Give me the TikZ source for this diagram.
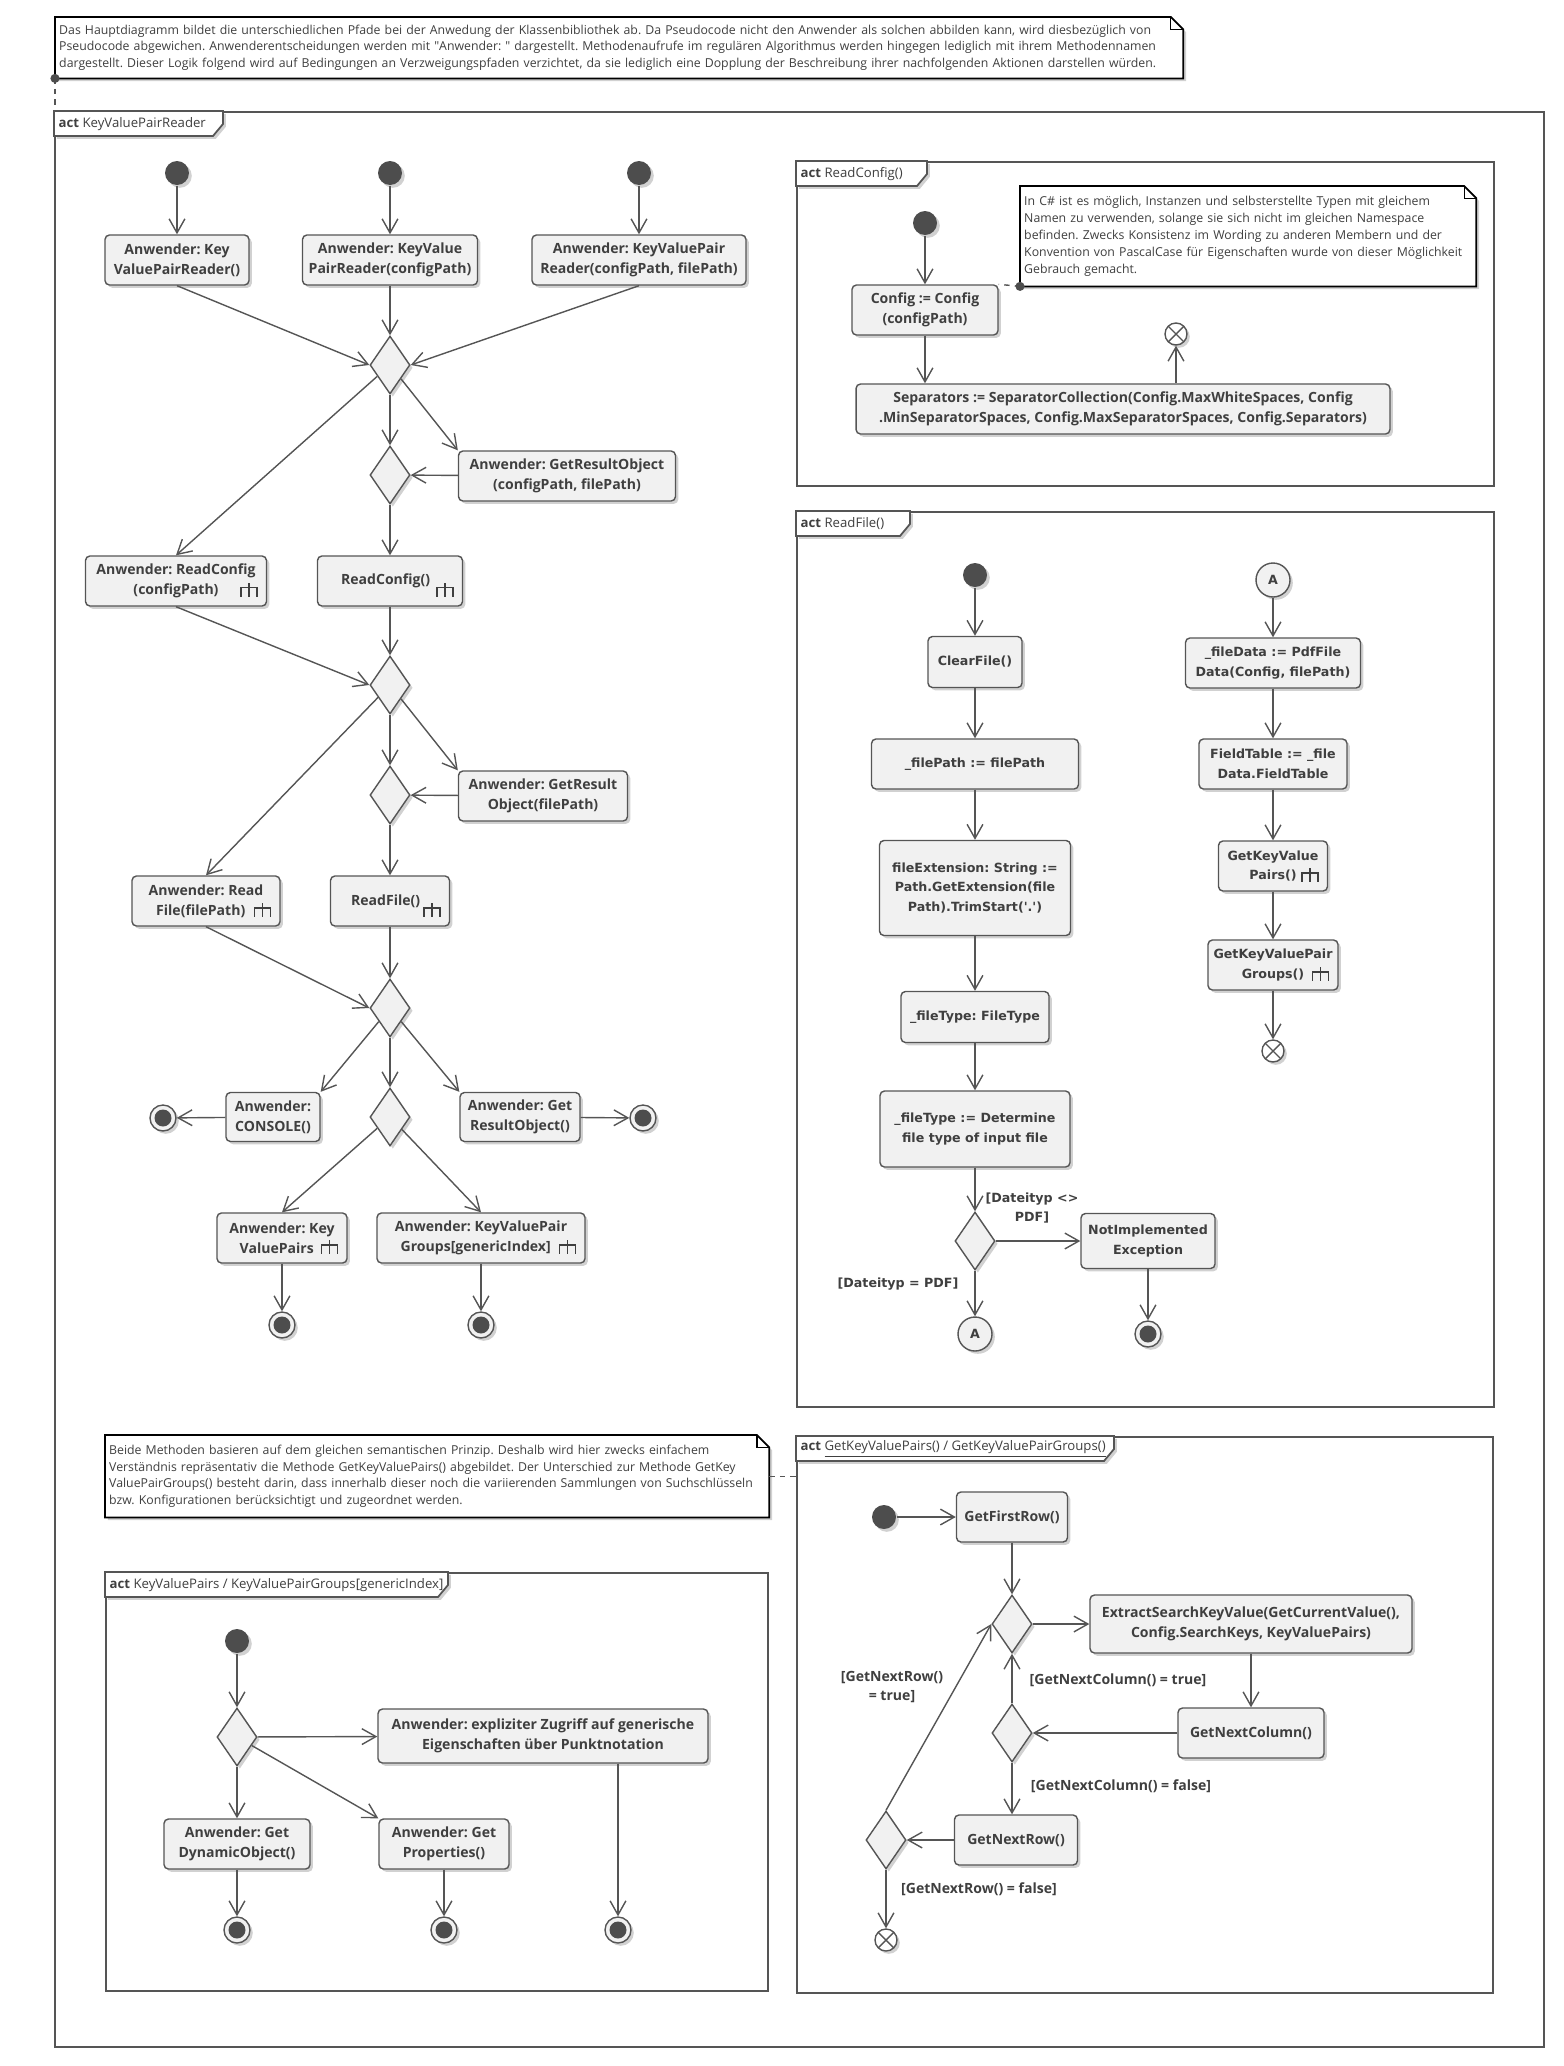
\documentclass[tikz,border=0pt]{standalone}
\usepackage{fontspec}
\setmainfont{Open Sans}
\newfontfamily\widefont{DejaVu Sans}
\usetikzlibrary{arrows.meta, positioning, shapes.geometric, shadows, calc, backgrounds}
\frenchspacing

\definecolor{umlline}{HTML}{555555}
\definecolor{umlfill}{HTML}{F1F1F1}
\definecolor{umltext}{HTML}{3F3F3F}
\definecolor{umldot}{HTML}{4D4D4D}

\newcommand{\actfont}{\fontsize{8}{11.3}\selectfont\bfseries}
\newcommand{\widetext}{\widefont\fontsize{7.2}{11.3}\selectfont\bfseries}
\newcommand{\notetext}{\fontsize{7}{9.6}\selectfont}
\newcommand{\tabtext}{\fontsize{7.5}{9}\selectfont}

\tikzset{
    actdiagram/.style={x=0.02cm, y=-0.02cm, >={Straight Barb[length=8pt, width=9pt]}, line width=0.8pt, text=umltext},
    wh/.style 2 args={minimum width=#1*0.2mm, minimum height=#2*0.2mm},
    umlshadow/.style={drop shadow={shadow xshift=1.6pt, shadow yshift=-1.6pt, opacity=0.18, fill=black}},
    action/.style={draw=umlline, fill=umlfill, rounded corners=2.5pt, align=center, font=\actfont, inner sep=1pt, umlshadow},
    wideaction/.style={action, font=\widetext},
    decision/.style={diamond, draw=umlline, fill=umlfill, minimum width=0.8cm, minimum height=1.16cm, inner sep=0pt, umlshadow},
    startnode/.style={circle, fill=umldot, minimum size=4.8mm, inner sep=0pt, umlshadow},
    endnode/.style={circle, draw=umlline, fill=umlfill, minimum size=5.2mm, inner sep=0pt, umlshadow,
        path picture={\fill[umldot] (path picture bounding box.center) circle (1.7mm);}},
    flowend/.style={circle, draw=umlline, fill=white, minimum size=4.4mm, inner sep=0pt, umlshadow,
        path picture={\draw[umlline] (path picture bounding box.north west) -- (path picture bounding box.south east)
            (path picture bounding box.north east) -- (path picture bounding box.south west);}},
    connector/.style={circle, draw=umlline, fill=umlfill, minimum size=6.8mm, inner sep=0pt, font=\widetext, umlshadow},
    guard/.style={font=\actfont, align=center, inner sep=0pt},
    wideguard/.style={guard, font=\widetext},
    note/.style={font=\notetext, align=left, inner xsep=2pt, inner ysep=0pt, anchor=north west},
    noteline/.style={draw=black, fill=white, line width=1pt, umlshadow},
    actframe/.style={draw=umlline, line width=1pt, anchor=north west, inner sep=0pt},
    flow/.style={draw=umlline, ->},
    notelink/.style={draw=umlline, dash pattern=on 3pt off 3pt},
    rake/.pic={\draw[umltext, line width=0.9pt] (0,0) -- (0,-14) (-8,0) -- (-8,-9) -- (8,-9) -- (8,0);},
}

% frame tab: node, tab width, label
\newcommand{\acttab}[3]{%
    \draw[draw=umlline, fill=white, line width=1pt, umlshadow] (#1.north west) -- ++(#2,0) -- ++(0,13) -- ++(-10,12) -- ($(#1.north west)+(0,25)$) -- cycle;
    \node[font=\tabtext, anchor=west, inner sep=0pt] (#1-tab) at ($(#1.north west)+(4,13)$) {\textbf{act} #3};}
% note outline with folded corner
\newcommand{\dogear}[1]{%
    \draw[noteline] (#1.north west) -- ([xshift=-7pt]#1.north east) -- ([yshift=-7pt]#1.north east) -- (#1.south east) -- (#1.south west) -- cycle;
    \draw[line width=0.6pt] ([xshift=-7pt]#1.north east) |- ([yshift=-7pt]#1.north east);}

\begin{document}
\begin{tikzpicture}[actdiagram]
    \useasboundingbox (0,0) rectangle (1563,2066);

    % notes
    \node[note, text width=1120*0.2mm, minimum height=60*0.2mm] (nTop) at (55,17) {Das Hauptdiagramm bildet die unterschiedlichen Pfade bei der Anwedung der Klassenbibliothek ab. Da Pseudocode nicht den Anwender als solchen abbilden kann, wird diesbezüglich von\\Pseudocode abgewichen. Anwenderentscheidungen werden mit \textquotedbl Anwender: \textquotedbl{} dargestellt. Methodenaufrufe im regulären Algorithmus werden hingegen lediglich mit ihrem Methodennamen\\dargestellt. Dieser Logik folgend wird auf Bedingungen an Verzweigungspfaden verzichtet, da sie lediglich eine Dopplung der Beschreibung ihrer nachfolgenden Aktionen darstellen würden.};

    % frames
    \node[actframe, line width=1.2pt, wh={1489}{1935}] (fMain) at (54,111) {};
    \acttab{fMain}{169}{KeyValuePairReader}
    \node[actframe, wh={697}{324}] (fRC) at (796,161) {};
    \acttab{fRC}{131}{ReadConfig()}
    \node[actframe, wh={697}{895}] (fRF) at (796,511) {};
    \acttab{fRF}{114}{ReadFile()}
    \node[actframe, wh={662}{418}] (fKV) at (105,1572) {};
    \acttab{fKV}{343}{KeyValuePairs / KeyValuePairGroups[genericIndex]}
    \node[actframe, wh={696}{556}] (fGK) at (796,1436) {};
    \acttab{fGK}{318}{\underline{GetKeyValuePairs() / GetKeyValuePairGroups()}}

    % KeyValuePairReader
    \node[startnode] (s1) at (177,173) {};
    \node[startnode] (s2) at (390,173) {};
    \node[startnode] (s3) at (639,173) {};
    \node[action, wh={144}{50}] (b1) at (177,260) {Anwender: Key\\ValuePairReader()};
    \node[action, wh={175}{50}] (b2) at (390,260) {Anwender: KeyValue\\PairReader(configPath)};
    \node[action, wh={214}{50}] (b3) at (639,260) {Anwender: KeyValuePair\\Reader(configPath, filePath)};
    \node[decision] (d1) at (390,365) {};
    \node[decision] (d2) at (390,475) {};
    \node[action, wh={217}{50}] (bGRO) at (567,476) {Anwender: GetResultObject\\(configPath, filePath)};
    \node[action, wh={181}{50}] (bRCu) at (176,581) {Anwender: ReadConfig\\(configPath)};
    \node[action, wh={145}{50}] (bRC) at (390,581) {ReadConfig()\hspace*{5pt}};
    \node[decision] (d3) at (390,685) {};
    \node[decision] (d4) at (390,795) {};
    \node[action, wh={169}{50}] (bGRF) at (543,796) {Anwender: GetResult\\Object(filePath)};
    \node[action, wh={148}{50}] (bRFu) at (206,901) {Anwender: Read\\File(filePath)\hspace*{6pt}};
    \node[action, wh={119}{50}] (bRF) at (390,901) {ReadFile()\hspace*{5pt}};
    \node[decision] (d5) at (390,1008) {};
    \node[action, wh={94}{49}] (bCON) at (273,1117) {Anwender:\\CONSOLE()};
    \node[endnode] (e1) at (163,1118) {};
    \node[decision] (d6) at (390,1117) {};
    \node[action, wh={120}{49}] (bGRN) at (520,1117) {Anwender: Get\\ResultObject()};
    \node[endnode] (e2) at (643,1118) {};
    \node[action, wh={130}{50}] (bKVP) at (282,1238) {Anwender: Key\\ValuePairs\hspace*{6pt}};
    \node[action, wh={208}{50}] (bKVG) at (481,1238) {Anwender: KeyValuePair\\Groups[genericIndex]\hspace*{6pt}};
    \node[endnode] (e3) at (282,1325) {};
    \node[endnode] (e4) at (481,1325) {};
    \foreach \n in {bRCu, bRC, bRFu, bRF, bKVP, bKVG}
        \pic at ([shift={(-18,-10)}]\n.south east) {rake};

    \draw[flow] (s1) -- (b1);
    \draw[flow] (s2) -- (b2);
    \draw[flow] (s3) -- (b3);
    \draw[flow] (b1.south) -- (d1.west);
    \draw[flow] (b2) -- (d1);
    \draw[flow] (b3.south) -- (d1.east);
    \draw[flow] (d1) -- (d2);
    \draw[flow] (d1) -- (bGRO.north west);
    \draw[flow] (d1) -- (bRCu.north);
    \draw[flow] (bGRO) -- (d2);
    \draw[flow] (d2) -- (bRC);
    \draw[flow] (bRCu.south) -- (d3.west);
    \draw[flow] (bRC) -- (d3);
    \draw[flow] (d3) -- (d4);
    \draw[flow] (d3) -- (bGRF.north west);
    \draw[flow] (d3) -- (bRFu.north);
    \draw[flow] (bGRF) -- (d4);
    \draw[flow] (d4) -- (bRF);
    \draw[flow] (bRFu.south) -- (d5.west);
    \draw[flow] (bRF) -- (d5);
    \draw[flow] (d5) -- (bCON.north east);
    \draw[flow] (d5) -- (d6);
    \draw[flow] (d5) -- (bGRN.north west);
    \draw[flow] (bCON) -- (e1);
    \draw[flow] (bGRN) -- (e2);
    \draw[flow] (d6) -- (bKVP.north);
    \draw[flow] (d6) -- (bKVG.north);
    \draw[flow] (bKVP) -- (e3);
    \draw[flow] (bKVG) -- (e4);

    % ReadConfig()
    \node[startnode] (sRC) at (925,223) {};
    \node[action, wh={146}{50}] (bCfg) at (925,310) {Config := Config\\(configPath)};
    \node[action, wh={534}{50}] (bSep) at (1123,409) {Separators := SeparatorCollection(Config.MaxWhiteSpaces, Config\\.MinSeparatorSpaces, Config.MaxSeparatorSpaces, Config.Separators)};
    \node[flowend] (ffRC) at (1176,334) {};
    \node[note, text width=448*0.2mm, minimum height=99*0.2mm] (nRC) at (1020,186) {In C\# ist es möglich, Instanzen und selbsterstellte Typen mit gleichem\\Namen zu verwenden, solange sie sich nicht im gleichen Namespace\\befinden. Zwecks Konsistenz im Wording zu anderen Membern und der\\Konvention von PascalCase für Eigenschaften wurde von dieser Möglichkeit\\Gebrauch gemacht.};

    \draw[flow] (sRC) -- (bCfg);
    \draw[flow] (bCfg.south) -- (bCfg.south |- bSep.north);
    \draw[flow] (ffRC |- bSep.north) -- (ffRC);
    \draw[notelink] (nRC.south west) -- (bCfg.north east);
    \fill[umldot] (nRC.south west) circle (2.6pt);

    % ReadFile()
    \node[startnode] (sRF) at (975,575) {};
    \node[wideaction, wh={94}{51}] (bClr) at (975,662) {ClearFile()};
    \node[wideaction, wh={207}{50}] (bFP) at (975,764) {\_filePath := filePath};
    \node[wideaction, wh={191}{95}] (bExt) at (975,888) {fileExtension: String :=\\Path.GetExtension(file\\Path).TrimStart('.')};
    \node[wideaction, wh={148}{51}] (bFT) at (975,1017) {\_fileType: FileType};
    \node[wideaction, wh={190}{76}] (bDet) at (975,1129) {\_fileType := Determine\\file type of input file};
    \node[decision] (dRF) at (975,1241) {};
    \node[wideaction, wh={134}{55}] (bNIE) at (1148,1241) {NotImplemented\\Exception};
    \node[connector] (cA1) at (975,1334) {A};
    \node[endnode] (eRF) at (1148,1334) {};
    \node[wideguard] (gNotPdf) at (1032,1208) {[Dateityp <>\\PDF]};
    \node[wideguard] (gPdf) at (898,1284) {[Dateityp = PDF]};
    \node[connector] (cA2) at (1273,580) {A};
    \node[wideaction, wh={175}{50}] (bFD) at (1273,663) {\_fileData := PdfFile\\Data(Config, filePath)};
    \node[wideaction, wh={148}{50}] (bFTab) at (1273,764) {FieldTable := \_file\\Data.FieldTable};
    \node[wideaction, wh={109}{50}] (bGKV) at (1273,866) {GetKeyValue\\Pairs()};
    \node[wideaction, wh={130}{50}] (bGKG) at (1273,965) {GetKeyValuePair\\Groups()};
    \node[flowend] (ffRF) at (1273,1051) {};
    \foreach \n in {bGKV, bGKG}
        \pic at ([shift={(-18,-10)}]\n.south east) {rake};

    \draw[flow] (sRF) -- (bClr);
    \draw[flow] (bClr) -- (bFP);
    \draw[flow] (bFP) -- (bExt);
    \draw[flow] (bExt) -- (bFT);
    \draw[flow] (bFT) -- (bDet);
    \draw[flow] (bDet) -- (dRF);
    \draw[flow] (dRF) -- (bNIE);
    \draw[flow] (dRF) -- (cA1);
    \draw[flow] (bNIE) -- (eRF);
    \draw[flow] (cA2) -- (bFD);
    \draw[flow] (bFD) -- (bFTab);
    \draw[flow] (bFTab) -- (bGKV);
    \draw[flow] (bGKV) -- (bGKG);
    \draw[flow] (bGKG) -- (ffRF);

    % KeyValuePairs / KeyValuePairGroups[genericIndex]
    \node[note, text width=656*0.2mm, minimum height=81*0.2mm] (nBL) at (105,1435) {Beide Methoden basieren auf dem gleichen semantischen Prinzip. Deshalb wird hier zwecks einfachem\\Verständnis repräsentativ die Methode GetKeyValuePairs() abgebildet. Der Unterschied zur Methode GetKey\\ValuePairGroups() besteht darin, dass innerhalb dieser noch die variierenden Sammlungen von Suchschlüsseln\\bzw. Konfigurationen berücksichtigt und zugeordnet werden.};
    \node[startnode] (sKV) at (237,1641) {};
    \node[decision] (dKV) at (237,1737) {};
    \node[action, wh={330}{54}] (bExp) at (543,1736) {Anwender: expliziter Zugriff auf generische\\Eigenschaften über Punktnotation};
    \node[action, wh={146}{50}] (bDyn) at (237,1844) {Anwender: Get\\DynamicObject()};
    \node[action, wh={130}{50}] (bProp) at (444,1844) {Anwender: Get\\Properties()};
    \node[endnode] (eK1) at (237,1930) {};
    \node[endnode] (eK2) at (444,1930) {};
    \node[endnode] (eK3) at (618,1930) {};

    \draw[flow] (sKV) -- (dKV);
    \draw[flow] (dKV) -- (bExp);
    \draw[flow] (dKV) -- (bDyn);
    \draw[flow] (dKV) -- (bProp.north west);
    \draw[flow] (bDyn) -- (eK1);
    \draw[flow] (bProp) -- (eK2);
    \draw[flow] (eK3 |- bExp.south) -- (eK3);
    \draw[notelink] (nBL.east) -- (nBL.east -| fGK.west);

    % GetKeyValuePairs() / GetKeyValuePairGroups()
    \node[startnode] (sGK) at (884,1517) {};
    \node[action, wh={111}{50}] (bGFR) at (1012,1517) {GetFirstRow()};
    \node[decision] (dGK1) at (1012,1624) {};
    \node[action, wh={322}{58}] (bESK) at (1251,1624) {ExtractSearchKeyValue(GetCurrentValue(),\\Config.SearchKeys, KeyValuePairs)};
    \node[action, wh={146}{50}] (bGNC) at (1251,1733) {GetNextColumn()};
    \node[decision] (dGK2) at (1012,1733) {};
    \node[action, wh={123}{50}] (bGNR) at (1016,1840) {GetNextRow()};
    \node[decision] (dGK3) at (886,1840) {};
    \node[flowend] (ffGK) at (886,1940) {};
    \node[guard] (gRowTrue) at (892,1687) {[GetNextRow()\\ = true]};
    \node[guard] (gColTrue) at (1118,1680) {[GetNextColumn() = true]};
    \node[guard] (gColFalse) at (1121,1786) {[GetNextColumn() = false]};
    \node[guard] (gRowFalse) at (979,1889) {[GetNextRow() = false]};

    \draw[flow] (sGK) -- (bGFR);
    \draw[flow] (bGFR) -- (dGK1);
    \draw[flow] (dGK1) -- (bESK);
    \draw[flow] (bESK) -- (bGNC);
    \draw[flow] (bGNC) -- (dGK2);
    \draw[flow] (dGK2) -- (dGK1);
    \draw[flow] (dGK2) -- (dGK2 |- bGNR.north);
    \draw[flow] (bGNR) -- (dGK3);
    \draw[flow] (dGK3.north) -- (dGK1.west);
    \draw[flow] (dGK3) -- (ffGK);

    % note outlines and links
    \begin{scope}[on background layer]
        \dogear{nTop}
        \dogear{nRC}
        \dogear{nBL}
    \end{scope}
    \draw[notelink] (nTop.south west) -- (nTop.south west |- fMain.north);
    \fill[umldot] (nTop.south west) circle (2.6pt);
\end{tikzpicture}
\end{document}
